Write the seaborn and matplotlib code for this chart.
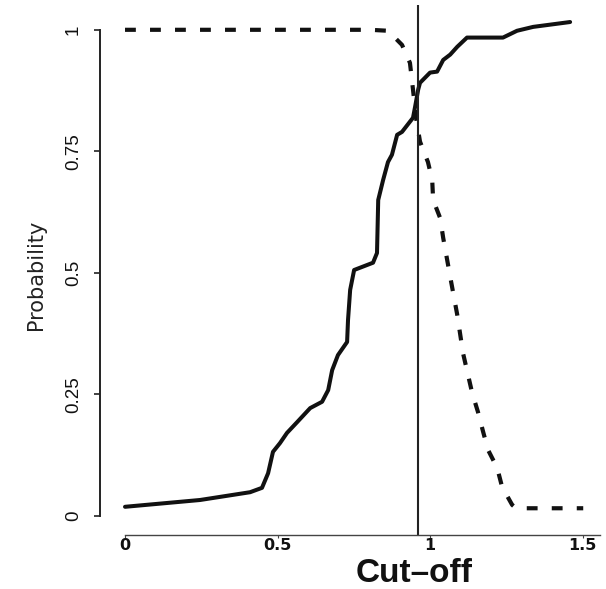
import matplotlib
matplotlib.use("Agg")
import matplotlib.pyplot as plt
import seaborn as sns
import pandas as pd

# Rising curve: probability as a function of the cut-off
solid_cutoff = [0.000, 0.246, 0.410, 0.449, 0.469, 0.485, 0.508, 0.531, 0.564, 0.607,
                0.646, 0.666, 0.679, 0.698, 0.728, 0.731, 0.738, 0.751, 0.813, 0.826,
                0.830, 0.846, 0.862, 0.875, 0.892, 0.908, 0.934, 0.944, 0.951, 0.961,
                0.967, 1.000, 1.023, 1.043, 1.066, 1.089, 1.121, 1.239, 1.285, 1.338,
                1.459]
solid_prob = [0.019, 0.033, 0.049, 0.058, 0.088, 0.132, 0.150, 0.171, 0.193, 0.222,
              0.235, 0.259, 0.300, 0.331, 0.358, 0.403, 0.465, 0.506, 0.521, 0.541,
              0.650, 0.691, 0.728, 0.743, 0.784, 0.790, 0.811, 0.819, 0.842, 0.877,
              0.891, 0.912, 0.914, 0.938, 0.949, 0.965, 0.984, 0.984, 0.998, 1.006,
              1.016]

# Falling curve: complementary probability
dashed_cutoff = [0.000, 0.803, 0.862, 0.908, 0.934, 0.944, 0.954, 0.967, 0.993, 1.007,
                 1.010, 1.033, 1.043, 1.066, 1.089, 1.108, 1.138, 1.157, 1.174, 1.190,
                 1.220, 1.236, 1.269, 1.282, 1.502]
dashed_prob = [1.000, 1.000, 0.998, 0.969, 0.932, 0.877, 0.819, 0.770, 0.728, 0.691,
               0.650, 0.613, 0.572, 0.492, 0.414, 0.335, 0.253, 0.214, 0.173, 0.136,
               0.099, 0.060, 0.023, 0.016, 0.016]

cutoff_value = 0.96

x_ticks = [0, 0.5, 1, 1.5]
x_tick_labels = ["0", "0.5", "1", "1.5"]
y_ticks = [0, 0.25, 0.5, 0.75, 1]
y_tick_labels = ["0", "0.25", "0.5", "0.75", "1"]

sns.set_theme(style="white")
plt.rcParams["font.family"] = ["Liberation Sans", "DejaVu Sans"]

fig = plt.figure(figsize=(6.06, 5.89), dpi=100)
ax = fig.add_axes([100 / 606, 54 / 589, 500 / 606, 530 / 589])

solid_df = pd.DataFrame({"cutoff": solid_cutoff, "prob": solid_prob})
dashed_df = pd.DataFrame({"cutoff": dashed_cutoff, "prob": dashed_prob})

sns.lineplot(data=solid_df, x="cutoff", y="prob", ax=ax, color="#111111",
             linewidth=2.9, estimator=None, sort=False)
sns.lineplot(data=dashed_df, x="cutoff", y="prob", ax=ax, color="#111111",
             linewidth=3.0, estimator=None, sort=False,
             linestyle=(0, (2.6, 3.4)))
ax.axvline(cutoff_value, color="#222222", linewidth=1.5)

ax.set_xlim(-0.082, 1.557)
ax.set_ylim(-0.039, 1.051)

for side in ("top", "right"):
    ax.spines[side].set_visible(False)
ax.spines["left"].set_bounds(0, 1)
ax.spines["left"].set_linewidth(1.4)
ax.spines["left"].set_color("#222222")
ax.spines["bottom"].set_bounds(0, 1.557)
ax.spines["bottom"].set_linewidth(1.0)
ax.spines["bottom"].set_color("#444444")

ax.set_yticks(y_ticks)
ax.set_yticklabels(y_tick_labels, rotation=90, va="center",
                   family=["Liberation Sans Narrow", "Liberation Sans"],
                   fontsize=13.5, color="#111111")
ax.tick_params(axis="y", direction="out", length=4, width=1.2, pad=9,
               left=True, color="#222222")

ax.set_xticks(x_ticks)
ax.set_xticklabels(x_tick_labels, family=["DejaVu Sans"], fontweight="bold",
                   fontsize=11.5, color="#111111")
ax.tick_params(axis="x", direction="out", length=2, width=0.8, pad=0,
               bottom=True, color="#444444")

ax.set_xlabel("")
ax.set_ylabel("Probability", fontsize=15, family=["DejaVu Sans"], color="#222222")
ax.yaxis.set_label_coords(-0.108, 0.49)

fig.text(414 / 606, 1 - 589 / 589, "Cut\u2013off", ha="center", va="bottom",
         fontsize=24, fontweight="bold", color="#111111")

fig.savefig("out.png", dpi=100, facecolor="white")
